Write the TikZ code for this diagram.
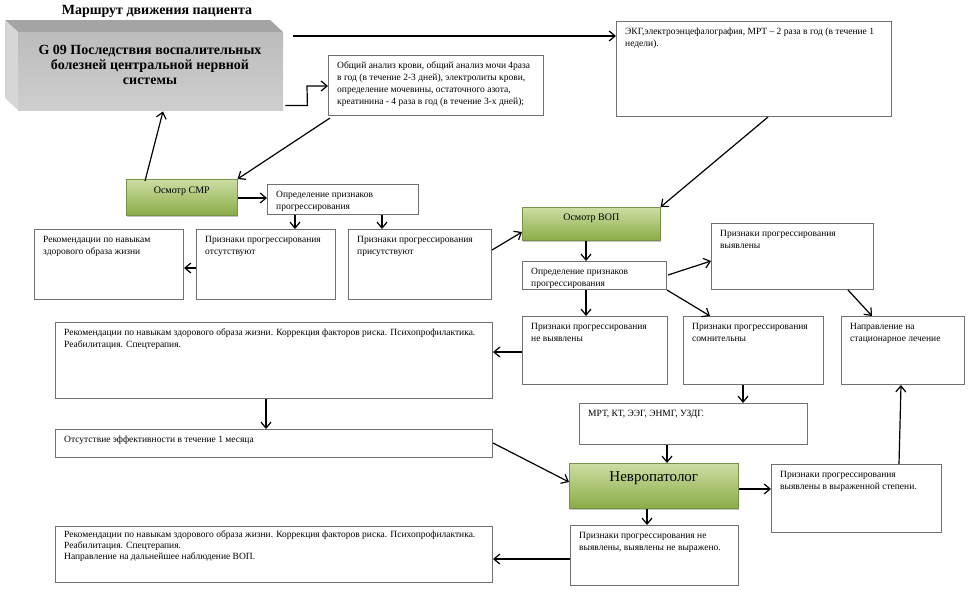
\documentclass[tikz,border=0pt]{standalone}
\usepackage{fontspec}
\setmainfont{Liberation Serif}
\usetikzlibrary{arrows.meta,calc,shadows}
\definecolor{boxline}{RGB}{112,112,112}
\definecolor{grntop}{RGB}{204,222,164}
\definecolor{grnbot}{RGB}{138,172,70}
\definecolor{grnline}{RGB}{118,146,70}
\definecolor{gfront}{RGB}{188,188,188}
\definecolor{gfront2}{RGB}{206,206,206}
\definecolor{gtop}{RGB}{164,164,164}
\definecolor{gside}{RGB}{214,214,214}
\tikzset{
  box/.style={draw=boxline, line width=1pt, anchor=north west, inner sep=0pt, fill=white},
  txt/.style={anchor=north west, align=left, inner sep=0pt, font=\fontsize{9.5}{12}\selectfont},
  grnbox/.style={draw=grnline, line width=0.6pt, anchor=north west, inner sep=0pt,
    top color=grntop, bottom color=grnbot,
    drop shadow={shadow xshift=0.8pt, shadow yshift=-1.6pt, fill=black!45}},
  grntxt/.style={anchor=center, inner sep=0pt},
  arr/.style={line width=1.2pt, -{Straight Barb[length=6pt,width=10pt]}},
}
\newcommand\bx[6]{%
  \node[box, minimum width=#4pt, minimum height=#5pt] (#1) at (#2,#3) {};
  \node[txt] (#1-t) at ([xshift=9pt,yshift=-5pt]#1.north west) {\strut#6};}
\begin{document}
\begin{tikzpicture}[x=1pt,y=-1pt]
\fill[white] (0,0) rectangle (971,592);
\useasboundingbox (0,0) rectangle (971,592);

% title
\node[font=\bfseries\fontsize{14}{16}\selectfont, inner sep=0pt] (title) at (157,11) {Маршрут движения пациента};

% 3D grey box
\fill[gtop] (5,20) -- (270,20) -- (283,32) -- (18,32) -- cycle;
\fill[gside] (5,20) -- (18,32) -- (18,110) -- (5,98) -- cycle;
\node[anchor=north west, inner sep=0pt, minimum width=265pt, minimum height=78pt,
      top color=gfront, bottom color=gfront2] (g09) at (18,32) {};
\node[align=center, inner sep=0pt, font=\bfseries\fontsize{14}{15}\selectfont] (g09t) at (150,65)
  {G 09 Последствия воспалительных\\болезней центральной нервной\\системы};

% boxes
\bx{anal}{328}{55}{215}{60}{Общий анализ крови, общий анализ мочи 4раза\\в год (в течение 2-3 дней), электролиты крови,\\определение мочевины, остаточного азота,\\креатинина - 4 раза в год (в течение 3-х дней);}
\bx{ecg}{616}{21}{275}{95}{ЭКГ,электроэнцефалография, МРТ – 2 раза в год (в течение 1\\недели).}
\bx{opr1}{267}{184}{151}{30}{Определение признаков\\прогрессирования}
\bx{rec0}{34}{229}{149}{70}{Рекомендации по навыкам\\здорового образа жизни}
\bx{ots}{196}{229}{139}{70}{Признаки прогрессирования\\отсутствуют}
\bx{pris}{348}{229}{143}{70}{Признаки прогрессирования\\присутствуют}
\bx{opr2}{522}{261}{144}{28}{Определение признаков\\прогрессирования}
\bx{vyy}{711}{223}{162}{66}{Признаки прогрессирования\\выявлены}
\bx{nevy}{522}{316}{145}{68}{Признаки прогрессирования\\не выявлены}
\bx{som}{683}{316}{140}{68}{Признаки прогрессирования\\сомнительны}
\bx{napr}{841}{316}{123}{68}{Направление на\\стационарное лечение}
\bx{rec2}{55}{322}{437}{76}{Рекомендации по навыкам здорового образа жизни. Коррекция факторов риска. Психопрофилактика.\\Реабилитация. Спецтерапия.}
\bx{ots2}{55}{429}{437}{28}{Отсутствие эффективности в течение 1 месяца}
\bx{mrt}{579}{403}{228}{41}{МРТ, КТ, ЭЭГ, ЭНМГ, УЗДГ.}
\bx{vyr}{771}{464}{170}{68}{Признаки прогрессирования\\выявлены в выраженной степени.}
\bx{nevy2}{570}{525}{168}{60}{Признаки прогрессирования не\\выявлены, выявлены не выражено.}
\node[box, minimum width=437pt, minimum height=56pt] (rec3) at (55,526) {};
\node[txt, font=\fontsize{9.5}{11}\selectfont] (rec3-t) at ([xshift=9pt,yshift=-4pt]rec3.north west)
  {\strut Рекомендации по навыкам здорового образа жизни. Коррекция факторов риска. Психопрофилактика.\\Реабилитация. Спецтерапия.\\Направление на дальнейшее наблюдение ВОП.};

% green boxes
\node[grnbox, minimum width=111pt, minimum height=36pt] (smr) at (126,179) {};
\node[grntxt, font=\fontsize{10}{12}\selectfont] (smr-t) at ($(smr.north)+(0,12)$) {Осмотр СМР};
\node[grnbox, minimum width=138pt, minimum height=33pt] (vop) at (522,207) {};
\node[grntxt, font=\fontsize{10}{12}\selectfont] (vop-t) at ($(vop.north)+(0,11)$) {Осмотр ВОП};
\node[grnbox, minimum width=169pt, minimum height=45pt] (nevro) at (569,463) {};
\node[grntxt, font=\fontsize{15}{17}\selectfont] (nevro-t) at ($(nevro.north)+(0,15)$) {Невропатолог};

% connectors
\draw[arr] ($(g09.north east)+(10,4)$) -- ($(ecg.north west)+(0,15)$);
\draw[arr] ($(g09.south east)+(2,-5)$) -- ++(22,0) -- ($(anal.north west)+(-21,31)$) -- ($(anal.north west)+(0,31)$);
\draw[arr] ($(anal.south west)+(2,2)$) -- (smr.north east);
\draw[arr] ($(smr.north west)+(19,2)$) -- ($(g09.south west)+(145,1)$);
\draw[arr] ($(smr.north east)+(0,19)$) -- ($(opr1.north west)+(0,14)$);
\draw[arr] ($(opr1.south west)+(28,0)$) -- ($(ots.north west)+(99,0)$);
\draw[arr] ($(opr1.south west)+(115,0)$) -- ($(pris.north west)+(34,0)$);
\draw[arr] ($(ots.north west)+(0,39)$) -- ($(rec0.north east)+(0,39)$);
\draw[arr] ($(pris.north east)+(0,21)$) -- ($(vop.north west)+(0,25)$);
\draw[arr] ($(ecg.south west)+(152,0)$) -- (vop.north east);
\draw[arr] ($(vop.south west)+(64,0)$) -- ($(opr2.north west)+(64,0)$);
\draw[arr] ($(opr2.south west)+(64,0)$) -- ($(nevy.north west)+(64,0)$);
\draw[arr] ($(opr2.north east)+(1,14)$) -- ($(vyy.north west)+(0,38)$);
\draw[arr] (opr2.south east) -- ($(som.north west)+(27,0)$);
\draw[arr] ($(vyy.south west)+(137,0)$) -- ($(napr.north west)+(31,0)$);
\draw[arr] ($(nevy.north west)+(0,36)$) -- ($(rec2.north east)+(0,30)$);
\draw[arr] ($(rec2.south west)+(211,0)$) -- ($(ots2.north west)+(211,0)$);
\draw[arr] ($(som.south west)+(60,0)$) -- ($(mrt.north west)+(164,0)$);
\draw[arr] ($(mrt.south west)+(88,0)$) -- ($(nevro.north west)+(98,0)$);
\draw[arr] ($(ots2.north east)+(0,14)$) -- ($(nevro.north west)+(0,19)$);
\draw[arr] ($(nevro.north east)+(0,26)$) -- ($(vyr.north west)+(0,25)$);
\draw[arr] ($(vyr.north west)+(128,0)$) -- ($(napr.south west)+(60,0)$);
\draw[arr] ($(nevro.south west)+(78,0)$) -- ($(nevy2.north west)+(77,0)$);
\draw[arr] ($(nevy2.north west)+(0,34)$) -- ($(rec3.north east)+(0,33)$);
\end{tikzpicture}
\end{document}
